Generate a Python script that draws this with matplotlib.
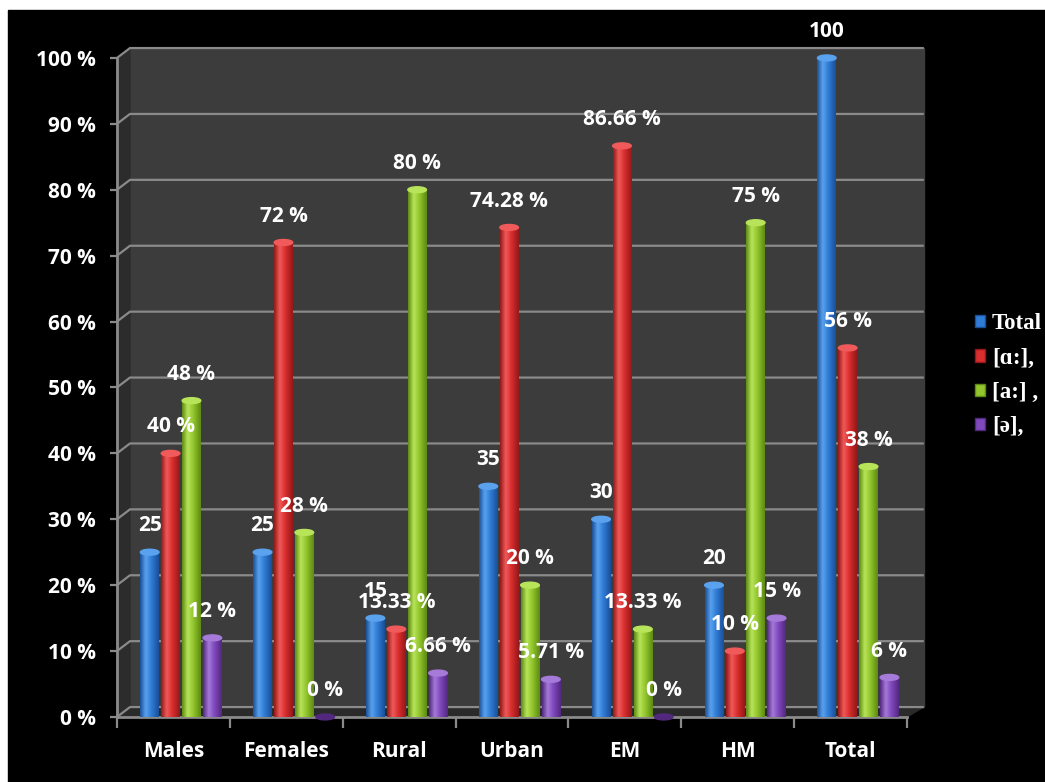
"""Grouped cylinder-style bar chart of vowel realisations per speaker group"""

import numpy as np
from matplotlib import pyplot as plt
from matplotlib.colors import LinearSegmentedColormap
from matplotlib.patches import Rectangle, Polygon, Ellipse, Patch

# data
categories = ['Males', 'Females', 'Rural', 'Urban', 'EM', 'HM', 'Total']
series_names = ['Total', '[ɑ:],', '[a:] ,', '[ə],']
total = [25, 25, 15, 35, 30, 20, 100]
back_a = [40, 72, 13.33, 74.28, 86.66, 10, 56]
front_a = [48, 28, 80, 20, 13.33, 75, 38]
schwa = [12, 0, 6.66, 5.71, 0, 15, 6]
series = [total, back_a, front_a, schwa]
y_ticks = [0, 10, 20, 30, 40, 50, 60, 70, 80, 90, 100]

# (dark edge, highlight, main) for each series
colors = [('#1a4f96', '#5aa2ee', '#2f7cd6'),
          ('#941818', '#f05a5a', '#d92e2e'),
          ('#5d8a12', '#b8e45a', '#92c62c'),
          ('#52287f', '#a57ad8', '#8048bd')]

plt.rcParams['font.family'] = ['Open Sans', 'DejaVu Sans']

fig = plt.figure(figsize=(10.45, 7.82), dpi=100, facecolor='white')
fig.patches.append(Rectangle((8 / 1045, 0), 1, 772 / 782, transform=fig.transFigure,
                             color='black', zorder=-1))
ax = fig.add_axes([0.0990, 0.0697, 0.7926, 0.8815])
ax.set_facecolor('none')

# fake 3d walls
dx, dy = 0.115, 1.5
wall = '#3c3c3c'
ax.add_patch(Polygon([(-0.5 + dx, dy), (6.5 + dx + 0.035, dy), (6.5 + dx + 0.035, 100 + dy),
                      (-0.5 + dx, 100 + dy)], closed=True, color=wall, zorder=0))
ax.add_patch(Polygon([(-0.5, 0), (-0.5 + dx, dy), (-0.5 + dx, 100 + dy), (-0.5, 100)],
                     closed=True, color='#2c2c2c', zorder=0))
ax.add_patch(Polygon([(-0.5, 0), (6.5, 0), (6.5 + dx + 0.035, dy), (-0.5 + dx, dy)],
                     closed=True, color='#2a2a2a', zorder=0))
for v in y_ticks:
    ax.plot([-0.5, -0.5 + dx, 6.5 + dx + 0.035], [v, v + dy, v + dy],
            color='#8a8a8a', lw=1.6, zorder=1, solid_capstyle='butt')

# bars drawn as shaded cylinders
bar_w = 0.165
offsets = [-0.21, -0.025, 0.16, 0.345]
x = np.arange(len(categories))
grad = np.linspace(0, 1, 64).reshape(1, -1)
for s, values in enumerate(series):
    dark, light, main = colors[s]
    cmap = LinearSegmentedColormap.from_list('c%d' % s, [(0, dark), (0.3, light), (0.6, main), (1, dark)])
    for i, v in enumerate(values):
        xc = x[i] + offsets[s]
        if v > 0:
            ax.imshow(grad, cmap=cmap, extent=[xc - bar_w / 2, xc + bar_w / 2, 0, v],
                      aspect='auto', interpolation='bicubic', zorder=3)
        ax.add_patch(Ellipse((xc, v), bar_w, 0.9, color=light if v > 0 else dark, zorder=4))
        label = f'{v:g}' if s == 0 else f'{v:g} %'
        ax.annotate(label, (xc, v), xytext=(0, 19), textcoords='offset points',
                    ha='center', va='center', color='white', fontsize=15,
                    fontweight='bold', zorder=5)

ax.set_xlim(-0.62, 6.72)
ax.set_ylim(-1.6, 103)

# axes
for side in ['top', 'right']:
    ax.spines[side].set_visible(False)
ax.spines['left'].set_position(('data', -0.5))
ax.spines['left'].set_bounds(0, 100)
ax.spines['bottom'].set_position(('data', 0))
ax.spines['bottom'].set_bounds(-0.5, 6.5)
for side in ['left', 'bottom']:
    ax.spines[side].set_color('#8a8a8a')
    ax.spines[side].set_linewidth(2)

ax.set_yticks(y_ticks)
ax.set_yticklabels([f'{v} %' for v in y_ticks])
ax.tick_params(axis='y', colors='#8a8a8a', labelcolor='white', length=5, width=1.6,
               labelsize=15, pad=10)
ax.set_xticks(np.arange(len(categories) + 1) - 0.5)
ax.set_xticklabels([])
ax.set_xticks(x, minor=True)
ax.set_xticklabels(categories, minor=True)
ax.tick_params(axis='x', which='major', colors='#8a8a8a', length=8, width=1.6)
ax.tick_params(axis='x', which='minor', length=0, labelcolor='white', labelsize=15, pad=17)
for lbl in ax.get_xticklabels(minor=True) + ax.get_yticklabels():
    lbl.set_fontweight('bold')

# legend on the right
handles = [Patch(facecolor=c[2], edgecolor=c[0]) for c in colors]
fig.legend(handles, series_names, loc='center left', bbox_to_anchor=(0.913, 0.52),
           frameon=False, labelcolor='white', handlelength=0.45, handleheight=0.45,
           handletextpad=0.3, labelspacing=0.58,
           prop={'family': ['Liberation Serif', 'DejaVu Serif'], 'weight': 'bold', 'size': 16.5})

fig.savefig('out.png', dpi=100, facecolor=fig.get_facecolor())
